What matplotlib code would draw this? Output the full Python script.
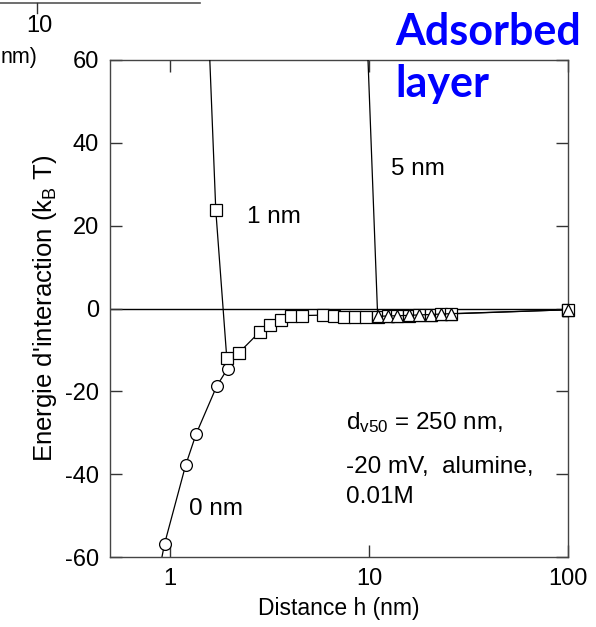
import matplotlib
matplotlib.use('Agg')
import matplotlib.pyplot as plt
from matplotlib.lines import Line2D

plt.rcParams['font.family'] = ['Liberation Sans', 'DejaVu Sans']
plt.rcParams['mathtext.fontset'] = 'custom'
plt.rcParams['mathtext.rm'] = 'Liberation Sans'
plt.rcParams['mathtext.it'] = 'Liberation Sans'
plt.rcParams['axes.unicode_minus'] = False

# donnees
h_0nm = [0.87, 0.94, 1.20, 1.354, 1.72, 1.95]
e_0nm = [-65, -56.8, -37.8, -30.3, -18.7, -14.5]

h_1nm = [1.47, 1.70, 1.93, 2.22, 2.83, 3.2, 3.6, 4.07, 4.62, 5.87, 6.66, 7.53,
         8.51, 9.69, 11.06, 12.4, 13.9, 15.9, 17.8, 20.4, 22.9, 25.7, 100]
e_1nm = [100, 23.7, -11.9, -10.7, -5.6, -4.0, -2.7, -1.9, -1.7, -1.6, -1.8, -2.0,
         -2.1, -2.1, -2.0, -1.9, -1.8, -1.7, -1.6, -1.5, -1.4, -1.3, -0.3]

h_5nm = [9.2, 11.06, 12.4, 13.9, 15.9, 17.8, 20.4, 22.9, 25.7, 100]
e_5nm = [100, -1.9, -1.8, -1.75, -1.65, -1.55, -1.45, -1.35, -1.25, -0.3]

y_ticks = [-60, -40, -20, 0, 20, 40, 60]
x_ticks = [1, 10, 100]
x_ticklabels = ['1', '10', '100']

fs = 17
W, H = 596, 627

fig = plt.figure(figsize=(W / 100, H / 100), dpi=100)
ax = fig.add_axes([110 / W, 1 - 557 / H, 458 / W, 497 / H])

ax.axhline(0, color='black', lw=1.0, zorder=1)

style = dict(color='black', lw=0.9, markersize=8.5, markerfacecolor='white',
             markeredgecolor='black', markeredgewidth=0.9)
ax.plot(h_0nm, e_0nm, marker='o', zorder=2, **style)
ax.plot(h_1nm, e_1nm, marker='s', zorder=3, **style)
ax.plot(h_5nm, e_5nm, marker='^', zorder=4, **style)
# derniers points (h = 100 nm) sur le bord droit, non coupes
ax.plot(h_1nm[-1:], e_1nm[-1:], marker='s', clip_on=False, zorder=5, **style)
ax.plot(h_5nm[-1:], e_5nm[-1:], marker='^', clip_on=False, zorder=6, **style)

ax.set_xscale('log')
ax.set_xlim(0.5, 100)
ax.set_ylim(-60, 60)
ax.set_xticks(x_ticks)
ax.set_xticklabels(x_ticklabels)
ax.minorticks_off()
ax.set_yticks(y_ticks)
ax.tick_params(direction='in', length=8.5, width=1.0, labelsize=fs, pad=8,
               top=True, right=True, color='#333333')
for s in ax.spines.values():
    s.set_color('#444444')
    s.set_linewidth(1.0)

ax.set_xlabel('Distance h (nm)', fontsize=16.5, labelpad=5)
ax.set_ylabel(r"Energie d'interaction (k$_{\mathrm{B}}$ T)", fontsize=18.5, labelpad=4)

ax.text(2.43, 22, '1 nm', fontsize=17.5, va='center')
ax.text(12.9, 33.8, '5 nm', fontsize=17.5, va='center')
ax.text(1.245, -48.3, '0 nm', fontsize=17.5, va='center')
ax.text(7.67, -29.2, "d$_{\\mathrm{v50}}$ = 250 nm,", fontsize=17.5, va='baseline')
ax.text(7.67, -39.6, "-20 mV,  alumine,", fontsize=17.5, va='baseline')
ax.text(7.67, -46.9, "0.01M", fontsize=17.5, va='baseline')

# titre bleu
fig.text(395 / W, 1 - 45 / H, 'Adsorbed', fontsize=31, fontweight='bold',
         family='Lato', color='#0000FF', va='baseline')
fig.text(395 / W, 1 - 97 / H, 'layer', fontsize=31, fontweight='bold',
         family='Lato', color='#0000FF', va='baseline')

# reste de la figure voisine (coupee)
fig.add_artist(Line2D([0, 200 / W], [1 - 3 / H, 1 - 3 / H], color='#555555', lw=1.2))
fig.add_artist(Line2D([37 / W, 37 / W], [1 - 3 / H, 1 - 13 / H], color='#333333', lw=1.0))
fig.text(39 / W, 1 - 26 / H, '10', fontsize=17, ha='center', va='center')
fig.text(1 / W, 1 - 57 / H, 'nm)', fontsize=15.5, ha='left', va='center')

fig.savefig('out.png', dpi=100)
